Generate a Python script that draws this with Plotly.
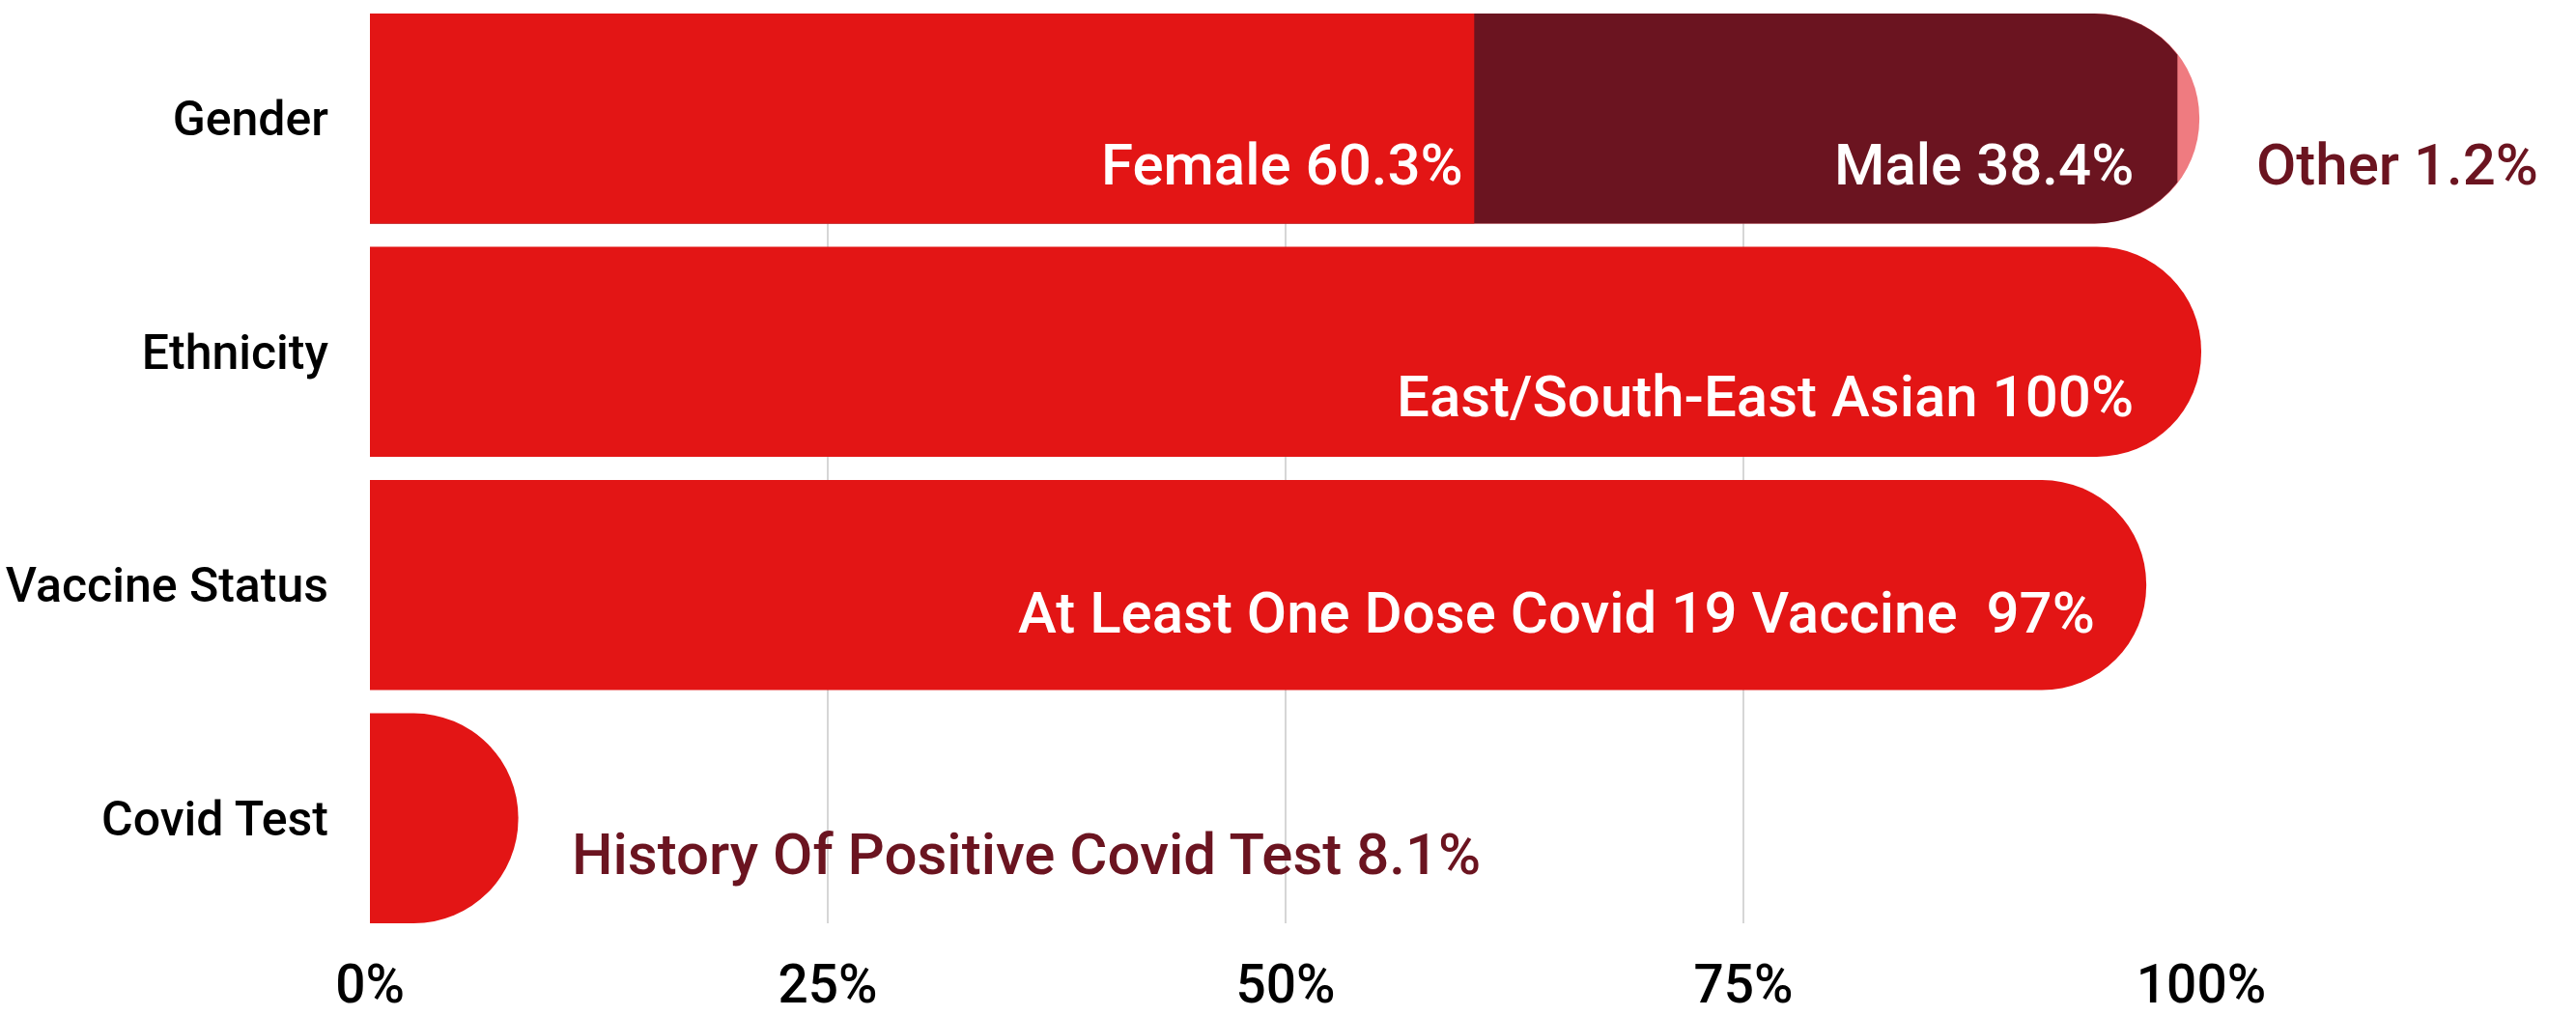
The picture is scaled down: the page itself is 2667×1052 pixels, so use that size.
import plotly.graph_objects as go

# ---- data ----
categories = ["Gender", "Ethnicity", "Vaccine Status", "Covid Test"]
gender_female = 60.3
gender_male = 38.4
gender_other = 1.2
ethnicity_value = 100
vaccine_value = 97
covid_value = 8.1
tick_values = [0, 25, 50, 75, 100]
tick_labels = ["0%", "25%", "50%", "75%", "100%"]

RED = "#E31515"
MAROON = "#6B1420"
PINK = "#EF7B80"
FONT = "Roboto, Lato, sans-serif"
X_MAX = 100

fig = go.Figure()

male_end = gender_female + gender_male
other_end = male_end + gender_other

# Gender: overlaid rounded segments (other under male under female)
fig.add_trace(go.Bar(y=["Gender"], x=[other_end], orientation="h",
                     marker=dict(color=PINK, cornerradius="50%", line=dict(width=0)),
                     hoverinfo="skip"))
fig.add_trace(go.Bar(y=["Gender"], x=[male_end], orientation="h",
                     marker=dict(color=MAROON, cornerradius="50%", line=dict(width=0)),
                     hoverinfo="skip"))
fig.add_trace(go.Bar(y=["Gender"], x=[gender_female], orientation="h",
                     marker=dict(color=RED, cornerradius=0, line=dict(width=0)),
                     hoverinfo="skip"))
# Other categories
fig.add_trace(go.Bar(y=["Ethnicity", "Vaccine Status", "Covid Test"],
                     x=[ethnicity_value, vaccine_value, covid_value], orientation="h",
                     marker=dict(color=RED, cornerradius="50%", line=dict(width=0)),
                     hoverinfo="skip"))

# ---- labels ----
labels = [
    # text, x anchor, category, xanchor, color, yshift
    (f"Female {gender_female}%", gender_female - 0.5, "Gender", "right", "white", -48),
    (f"Male {gender_male}%", male_end - 2.3, "Gender", "right", "white", -48),
    (f"Other {gender_other}%", other_end + 3.0, "Gender", "left", MAROON, -48),
    (f"East/South-East Asian {ethnicity_value}%", ethnicity_value - 3.6, "Ethnicity", "right", "white", -46),
    (f"At Least One Dose Covid 19 Vaccine \u00a0{vaccine_value}%", vaccine_value - 2.7, "Vaccine Status", "right", "white", -29),
    (f"History Of Positive Covid Test {covid_value}%", covid_value + 2.8, "Covid Test", "left", MAROON, -37),
]
for text, x, cat, xa, col, ys in labels:
    # paper-referenced x so labels beyond the axis range stay visible
    fig.add_annotation(x=x / X_MAX, xref="paper", y=cat, yref="y", text=text,
                       showarrow=False, xanchor=xa, yanchor="middle", yshift=ys,
                       font=dict(family=FONT, size=60, color=col, weight=500))

fig.update_layout(
    width=2667, height=1052,
    margin=dict(l=383, r=388, t=14, b=96),
    barmode="overlay",
    bargap=0.1,
    showlegend=False,
    plot_bgcolor="white",
    paper_bgcolor="white",
    font=dict(family=FONT, color="black"),
    xaxis=dict(range=[0, X_MAX], tickvals=tick_values, ticktext=tick_labels,
               showgrid=True, gridcolor="#D6D6D6", gridwidth=1.5,
               zeroline=False, showline=False, ticks="",
               tickfont=dict(family=FONT, size=55, color="black", weight=500),
               ticklabelstandoff=26, automargin=False, fixedrange=True),
    yaxis=dict(categoryorder="array", categoryarray=categories[::-1],
               range=[-0.45, 3.45], showgrid=False, zeroline=False,
               showline=False, ticks="",
               tickfont=dict(family=FONT, size=50, color="black", weight=500),
               ticklabelstandoff=42, automargin=False, fixedrange=True),
)

fig.write_html("out.html", config={"displayModeBar": False},
               post_script="document.body.style.margin='0px';document.body.style.overflow='hidden';")
